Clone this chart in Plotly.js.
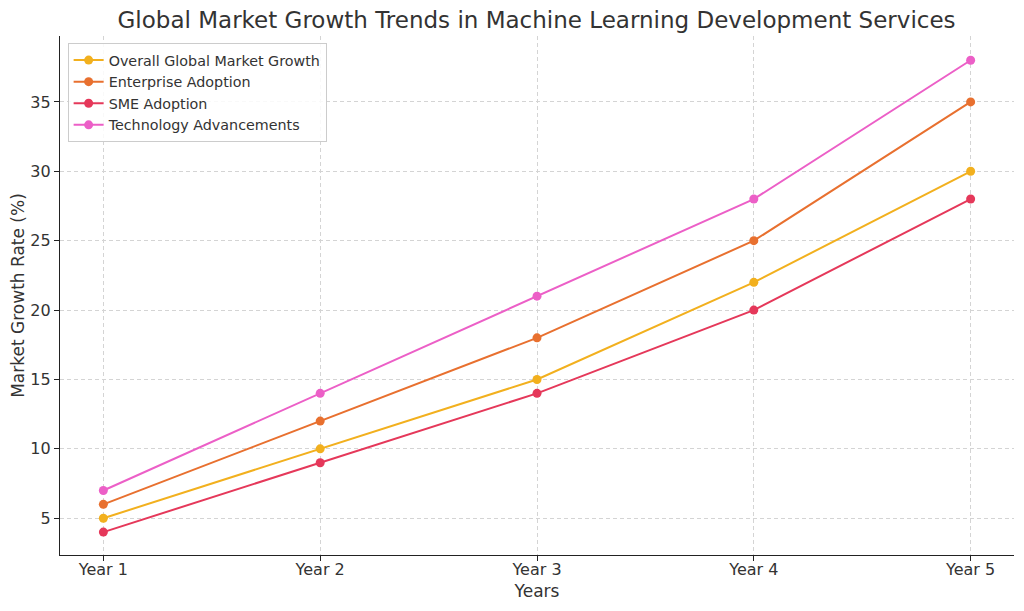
<!DOCTYPE html>
<html>
<head>
<meta charset="utf-8">
<script src="https://cdn.plot.ly/plotly-3.0.1.min.js"></script>
<style>html,body{margin:0;padding:0;background:#fff;}#chart{width:1024px;height:611px;}</style>
</head>
<body>
<div id="chart"></div>
<script>
const years = ["Year 1", "Year 2", "Year 3", "Year 4", "Year 5"];
const overallGrowth = [5, 10, 15, 22, 30];
const enterpriseAdoption = [6, 12, 18, 25, 35];
const smeAdoption = [4, 9, 14, 20, 28];
const techAdvancements = [7, 14, 21, 28, 38];
const seriesNames = ["Overall Global Market Growth", "Enterprise Adoption", "SME Adoption", "Technology Advancements"];
const seriesColors = ["#f2b01e", "#e8702f", "#e5385a", "#ec5fc7"];
const seriesValues = [overallGrowth, enterpriseAdoption, smeAdoption, techAdvancements];

const traces = seriesValues.map((v, i) => ({
  x: years, y: v, name: seriesNames[i], type: "scatter", mode: "lines+markers",
  line: {color: seriesColors[i], width: 2},
  marker: {color: seriesColors[i], size: 9}
}));

const axisCommon = {
  showgrid: true, gridcolor: "#d4d4d4", griddash: "4px,3px", gridwidth: 1,
  showline: true, linecolor: "#222", linewidth: 1.2,
  ticks: "outside", ticklen: 5, tickcolor: "#222",
  tickfont: {family: "DejaVu Sans", size: 16, color: "#333"},
  zeroline: false
};

const layout = {
  width: 1024, height: 611,
  margin: {l: 60, r: 10, t: 36, b: 56},
  paper_bgcolor: "#fff", plot_bgcolor: "#fff",
  font: {family: "DejaVu Sans", color: "#333"},
  title: {text: "Global Market Growth Trends in Machine Learning Development Services",
          font: {family: "DejaVu Sans", size: 23, color: "#333"}, x: 0.524, xanchor: "center", y: 0.967, yanchor: "middle"},
  xaxis: Object.assign({}, axisCommon, {
    type: "category", range: [-0.2, 4.2], ticklabelstandoff: -5,
    title: {text: "Years", font: {family: "DejaVu Sans", size: 17, color: "#333"}, standoff: 6}
  }),
  yaxis: Object.assign({}, axisCommon, {
    range: [2.35, 39.75], tickvals: [5, 10, 15, 20, 25, 30, 35],
    title: {text: "Market Growth Rate (%)", font: {family: "DejaVu Sans", size: 17, color: "#333"}, standoff: 1}
  }),
  showlegend: true,
  legend: {x: 0.008, y: 0.986, xanchor: "left", yanchor: "top",
           bordercolor: "#ccc", borderwidth: 1, bgcolor: "rgba(255,255,255,0.85)",
           font: {family: "DejaVu Sans", size: 14.3, color: "#333"}, tracegroupgap: 0}
};

Plotly.newPlot("chart", traces, layout, {displayModeBar: false, staticPlot: true});
</script>
</body>
</html>
